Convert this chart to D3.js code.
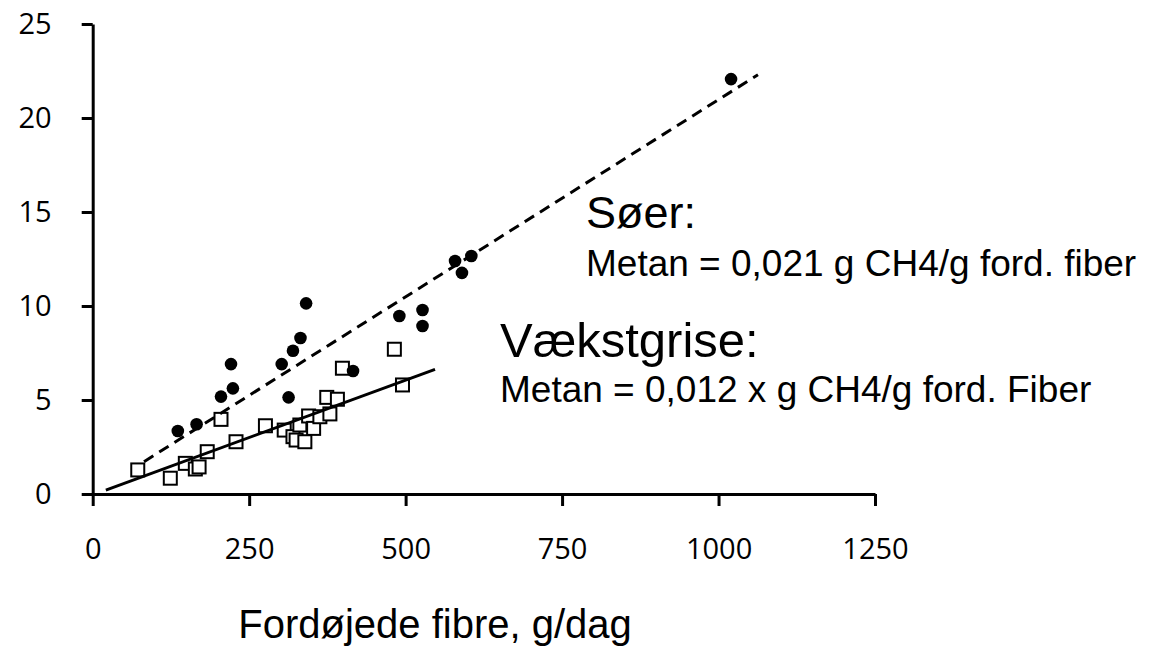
<!DOCTYPE html>
<html>
<head>
<meta charset="utf-8">
<script src="https://cdn.jsdelivr.net/npm/d3@7"></script>
<style>
  html, body { margin: 0; padding: 0; background: #fff; }
  svg { display: block; }
</style>
</head>
<body>
<svg id="chart" width="1165" height="651"></svg>
<script>
// ---- Data ----
const xTicks = [0, 250, 500, 750, 1000, 1250];
const yTicks = [0, 5, 10, 15, 20, 25];

// Søer (sows) – filled circles
const soerX = [136, 166, 205, 224, 221, 302, 313, 320, 332, 341, 416, 490, 527, 527, 579, 605, 590, 1020];
const soerY = [3.35, 3.71, 5.18, 5.62, 6.91, 6.91, 5.14, 7.62, 8.30, 10.14, 6.54, 9.47, 9.79, 8.94, 12.39, 12.66, 11.76, 22.07];

// Vækstgrise (growing pigs) – open squares
const growX = [72, 124, 148, 164, 170, 183, 205, 229, 276, 306, 320, 325, 339, 331, 345, 353, 363, 379, 374, 391, 399, 482, 495];
const growY = [1.28, 0.84, 1.63, 1.33, 1.44, 2.25, 3.97, 2.78, 3.63, 3.40, 3.05, 2.87, 2.78, 3.67, 4.15, 3.49, 4.11, 4.26, 5.14, 5.04, 6.69, 7.70, 5.80];

// Regression lines (end points)
const soerFitX = [82, 1063];
const soerFitY = [1.72, 22.3];
const growFitX = [21, 547];
const growFitY = [0.21, 6.63];

const xTitle = "Fordøjede fibre, g/dag";
const soerTitle = "Søer:";
const soerEq = "Metan = 0,021 g CH4/g ford. fiber";
const growTitle = "Vækstgrise:";
const growEq = "Metan = 0,012 x g CH4/g ford. Fiber";

// ---- Drawing ----
const svg = d3.select("#chart");
const x = d3.scaleLinear().domain([0, 1250]).range([92.7, 875]);
const y = d3.scaleLinear().domain([0, 25]).range([494, 24]);

const tickFont = "'Open Sans', 'Liberation Sans', sans-serif";
const textFont = "'Liberation Sans', Arial, sans-serif";

// Y axis
const yAxis = svg.append("g")
  .attr("transform", `translate(${x(0)},0)`)
  .call(d3.axisLeft(y).tickValues(yTicks).tickSize(11).tickSizeOuter(0).tickPadding(30).tickFormat(d3.format("d")));
// X axis
const xAxis = svg.append("g")
  .attr("transform", `translate(0,${y(0)})`)
  .call(d3.axisBottom(x).tickValues(xTicks).tickSize(12).tickSizeOuter(0).tickPadding(32).tickFormat(d3.format("d")));

[yAxis, xAxis].forEach(g => {
  g.select(".domain").attr("stroke", "#000").attr("stroke-width", 3);
  g.selectAll(".tick line").attr("stroke", "#000").attr("stroke-width", 3);
  g.selectAll(".tick text").attr("fill", "#000").style("font-family", tickFont).style("font-size", "29px");
});

// Squares (growing pigs)
const sq = 13;
svg.append("g").selectAll("rect")
  .data(growX.map((d, i) => ({ x: d, y: growY[i] })))
  .join("rect")
  .attr("x", d => x(d.x) - sq / 2)
  .attr("y", d => y(d.y) - sq / 2)
  .attr("width", sq).attr("height", sq)
  .attr("fill", "#fff").attr("stroke", "#000").attr("stroke-width", 2);

// Circles (sows)
svg.append("g").selectAll("circle")
  .data(soerX.map((d, i) => ({ x: d, y: soerY[i] })))
  .join("circle")
  .attr("cx", d => x(d.x)).attr("cy", d => y(d.y))
  .attr("r", 6.3).attr("fill", "#000");

// Regression lines
const line = d3.line().x(d => x(d[0])).y(d => y(d[1]));
svg.append("path")
  .attr("d", line(soerFitX.map((d, i) => [d, soerFitY[i]])))
  .attr("fill", "none").attr("stroke", "#000").attr("stroke-width", 3)
  .attr("stroke-dasharray", "11,7");
svg.append("path")
  .attr("d", line(growFitX.map((d, i) => [d, growFitY[i]])))
  .attr("fill", "none").attr("stroke", "#000").attr("stroke-width", 3);

// Texts
svg.append("text").attr("x", 586).attr("y", 228)
  .style("font-family", textFont).style("font-size", "45px").text(soerTitle);
svg.append("text").attr("x", 586).attr("y", 276)
  .style("font-family", textFont).style("font-size", "37px").text(soerEq);
svg.append("text").attr("x", 500).attr("y", 357)
  .style("font-family", textFont).style("font-size", "49px").text(growTitle);
svg.append("text").attr("x", 500).attr("y", 402)
  .style("font-family", textFont).style("font-size", "37px").text(growEq);
svg.append("text").attr("x", 435).attr("y", 638).attr("text-anchor", "middle")
  .style("font-family", textFont).style("font-size", "40px").text(xTitle);
</script>
</body>
</html>
